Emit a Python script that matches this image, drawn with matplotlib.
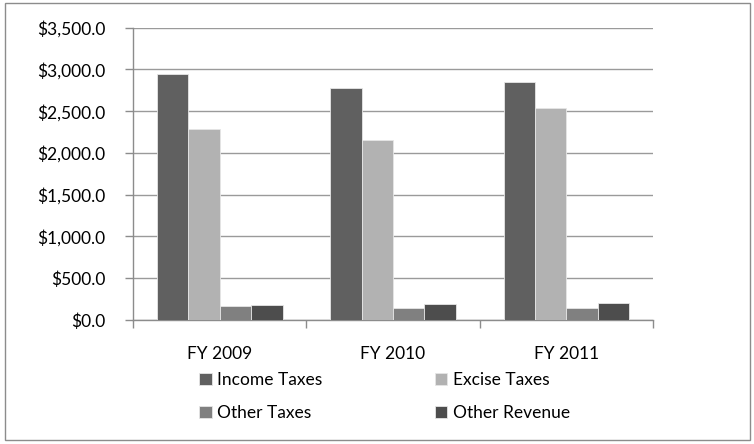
import matplotlib
matplotlib.use("Agg")
import matplotlib.pyplot as plt
from matplotlib.patches import Rectangle
from matplotlib.ticker import FuncFormatter
import numpy as np

categories = ["FY 2009", "FY 2010", "FY 2011"]
series_names = ["Income Taxes", "Excise Taxes", "Other Taxes", "Other Revenue"]
income_taxes = [2946, 2778, 2850]
excise_taxes = [2283, 2151, 2542]
other_taxes = [168, 144, 144]
other_revenue = [176, 195, 204]
colors = ["#606060", "#b2b2b2", "#808080", "#4d4d4d"]

plt.rcParams["font.family"] = ["Lato", "DejaVu Sans"]
FS = 12.5

fig = plt.figure(figsize=(7.54, 4.44), dpi=100)
ax = fig.add_axes([133 / 754, 1 - 320 / 444, 520 / 754, (320 - 27.7) / 444])

values = [income_taxes, excise_taxes, other_taxes, other_revenue]
n = len(series_names)
group_w = 0.725
bw = group_w / n
x = np.arange(len(categories))
handles = []
for i, (name, vals, c) in enumerate(zip(series_names, values, colors)):
    h = ax.bar(x - group_w / 2 + bw * (i + 0.5), vals, width=bw, color=c,
               edgecolor="#e6e6e6", linewidth=0.6, label=name, zorder=3)
    handles.append(h)

ax.set_xlim(-0.5, len(categories) - 0.5)
ax.set_ylim(0, 3500)
ax.set_yticks(np.arange(0, 3501, 500))
ax.yaxis.set_major_formatter(FuncFormatter(lambda v, p: "${:,.1f}".format(v)))
ax.grid(axis="y", color="#9a9a9a", linewidth=1.0, zorder=0)
ax.set_axisbelow(True)

for side in ["top", "right"]:
    ax.spines[side].set_visible(False)
for side in ["left", "bottom"]:
    ax.spines[side].set_color("#8c8c8c")
    ax.spines[side].set_linewidth(1.0)

ax.set_xticks(x)
ax.set_xticklabels(categories)
ax.tick_params(axis="x", length=0, labelsize=FS, pad=19)
ax.set_xticks(np.arange(-0.5, len(categories), 1.0), minor=True)
ax.tick_params(axis="x", which="minor", length=6, color="#8c8c8c", width=1.0)
ax.tick_params(axis="y", length=6, color="#8c8c8c", width=1.0, labelsize=FS, pad=14)

leg = fig.legend([handles[0], handles[2], handles[1], handles[3]],
                 [series_names[0], series_names[2], series_names[1], series_names[3]],
                 ncol=2, loc="upper left", bbox_to_anchor=(199 / 754, 1 - 372 / 444),
                 frameon=False, fontsize=FS, handlelength=0.72, handleheight=0.72,
                 handletextpad=0.3, columnspacing=6.5, labelspacing=1.0,
                 borderaxespad=0, borderpad=0)

fig.patches.append(Rectangle((4.5 / 754, 4 / 444), 745 / 754, 437 / 444,
                             transform=fig.transFigure, fill=False,
                             edgecolor="#8c8c8c", linewidth=1.0))

fig.savefig("out.png", dpi=100)
